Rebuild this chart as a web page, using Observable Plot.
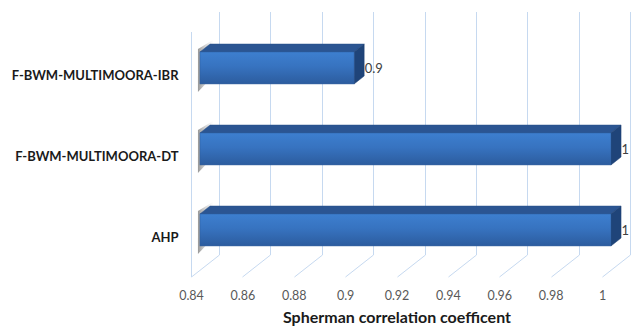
<!DOCTYPE html>
<html><head><meta charset="utf-8">
<script src="https://cdn.jsdelivr.net/npm/d3@7"></script>
<script src="https://cdn.jsdelivr.net/npm/@observablehq/plot@0.6"></script>
<style>body{margin:0;background:#fff;} #chart svg{overflow:visible;}</style>
</head><body><div id="chart"></div>
<script>
const categories = ["F-BWM-MULTIMOORA-IBR", "F-BWM-MULTIMOORA-DT", "AHP"];
const values = [0.9, 1, 1];
const valueLabels = ["0.9", "1", "1"];
const xTicks = [0.84, 0.86, 0.88, 0.9, 0.92, 0.94, 0.96, 0.98, 1];
const xTickLabels = ["0.84", "0.86", "0.88", "0.9", "0.92", "0.94", "0.96", "0.98", "1"];
const axisTitle = "Spherman correlation coefficent";

const data = categories.map((c, i) => ({category: c, value: values[i], label: valueLabels[i]}));

// 3D depth of the wall (pixels) and bar depth fractions
const DX = 28, DY = -22;
const BF = 0.32, BB = 0.68;
const BAR_DY = DY * 0.32; // front face shift

function defsMark() {
  const g = d3.create("svg:g");
  const defs = g.append("defs");
  const fg = defs.append("linearGradient").attr("id", "frontGrad").attr("x1", 0).attr("y1", 0).attr("x2", 0).attr("y2", 1);
  fg.append("stop").attr("offset", "0%").attr("stop-color", "#3d7fcf");
  fg.append("stop").attr("offset", "45%").attr("stop-color", "#3773c0");
  fg.append("stop").attr("offset", "100%").attr("stop-color", "#2c5c9e");
  const sg = defs.append("linearGradient").attr("id", "shadowGrad").attr("x1", 0).attr("y1", 0).attr("x2", 1).attr("y2", 0);
  sg.append("stop").attr("offset", "0%").attr("stop-color", "#8c8c8c").attr("stop-opacity", 0.9);
  sg.append("stop").attr("offset", "60%").attr("stop-color", "#c8c8c8").attr("stop-opacity", 0.6);
  sg.append("stop").attr("offset", "100%").attr("stop-color", "#f0f0f0").attr("stop-opacity", 0.1);
  return g.node();
}

function wallsMark(index, scales, vals, dims) {
  const x = scales.x;
  const g = d3.create("svg:g").attr("stroke", "#c6d9f0").attr("stroke-width", 1).attr("fill", "none");
  const yb = dims.height - dims.marginBottom, yt = dims.marginTop;
  for (const t of xTicks) {
    const fx = Math.round(x(t)) + 0.5;
    g.append("line").attr("x1", fx + DX).attr("x2", fx + DX).attr("y1", yt + DY).attr("y2", yb + DY);
    g.append("line").attr("x1", fx).attr("x2", fx + DX).attr("y1", yb).attr("y2", yb + DY);
  }
  const x0 = Math.round(x(xTicks[0])) + 0.5;
  g.append("line").attr("x1", x0).attr("x2", x0).attr("y1", yt - 2).attr("y2", yb);
  return g.node();
}

function barsMark(index, scales, vals, dims) {
  const x = scales.x, y = scales.y;
  const bw = y.bandwidth ? y.bandwidth() : 32;
  const g = d3.create("svg:g");
  const xs = x(xTicks[0]);
  for (const d of data) {
    const top = y(d.category) + BAR_DY;
    const bot = top + bw;
    const xl = xs + DX * BF, xr = x(d.value) + DX * BF;
    const ddx = DX * (BB - BF), ddy = DY * (BB - BF);
    // shadow of the bar's end on the left wall
    g.append("polygon").attr("points", [[xl - 2, bot + 8], [xl - 2, top - 3], [xl + ddx + 3, top + ddy - 4], [xl + ddx + 3, bot + ddy]].join(" "))
      .attr("fill", "url(#shadowGrad)");
    // top face
    g.append("polygon").attr("points", [[xl, top], [xr, top], [xr + ddx, top + ddy], [xl + ddx, top + ddy]].join(" "))
      .attr("fill", "#2b5592").attr("stroke", "#27508a").attr("stroke-width", 0.5);
    // end face
    g.append("polygon").attr("points", [[xr, top], [xr + ddx, top + ddy], [xr + ddx, bot + ddy], [xr, bot]].join(" "))
      .attr("fill", "#1f4479").attr("stroke", "#1c3f70").attr("stroke-width", 0.5);
  }
  return g.node();
}

const plot = Plot.plot({
  width: 636,
  height: 327,
  marginLeft: 191,
  marginRight: 34,
  marginTop: 34,
  marginBottom: 50,
  style: {fontFamily: "Lato, 'Open Sans', sans-serif", background: "#fff"},
  x: {domain: [0.84, 1], type: "linear"},
  y: {domain: categories, paddingInner: 0.605, paddingOuter: 0.3025},
  marks: [
    defsMark,
    wallsMark,
    barsMark,
    Plot.barX(data, {x1: () => xTicks[0], x2: "value", y: "category", dx: DX * BF, dy: BAR_DY, fill: "url(#frontGrad)", stroke: "#2d5c9b", strokeWidth: 0.5}),
    Plot.text(data, {x: "value", y: "category", text: "label", dx: 19, dy: BAR_DY, textAnchor: "start", fontSize: 13, fill: "#404040"}),
    Plot.axisY({tickSize: 0, tickPadding: 13, fontSize: 13, fontWeight: "bold", fill: "#1a1a1a", label: null}),
    Plot.axisX({ticks: xTicks, tickFormat: d => xTickLabels[xTicks.indexOf(d)], tickSize: 0, tickPadding: 14, fontSize: 12.5, fill: "#595959", label: null}),
    Plot.text([axisTitle], {frameAnchor: "bottom", dy: 40, lineAnchor: "middle", fontSize: 16, fontWeight: "bold", fill: "#1a1a1a"})
  ]
});
document.getElementById("chart").appendChild(plot);
</script>
</body></html>
